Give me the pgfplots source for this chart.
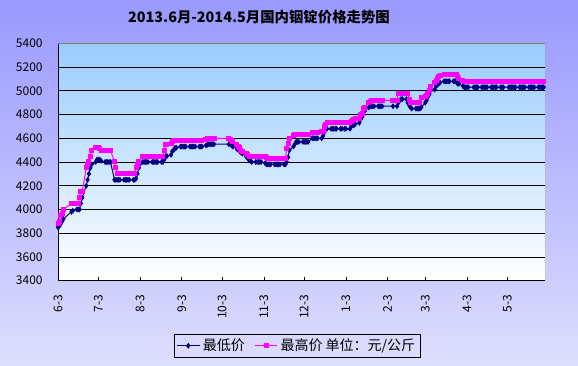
\documentclass[border=0pt]{standalone}
\usepackage{pgfplots}
\pgfplotsset{compat=1.18}
\usepackage{fontspec}
\setmainfont{Noto Sans CJK SC}
\definecolor{bgtop}{RGB}{153,153,255}
\definecolor{bgbot}{RGB}{222,222,253}
\definecolor{patop}{RGB}{153,204,255}
\definecolor{navyc}{RGB}{0,0,128}
\definecolor{magc}{RGB}{255,0,255}
\begin{document}
\begin{tikzpicture}[x=0.75pt,y=0.75pt]
\shade[top color=bgtop,bottom color=bgbot] (0,0) rectangle (578,366);
\node[font=\bfseries\fontsize{10.8}{12}\selectfont] at (259,349) {2013.6月-2014.5月国内铟锭价格走势图};
\begin{axis}[
  at={(43.5pt,64pt)}, anchor=south west,
  scale only axis, width=365.25pt, height=178pt,
  xmin=0, xmax=362, ymin=3400, ymax=5400,
  ytick={3400,3600,...,5400},
  xtick={0,30,61,92,122,153,183,214,245,273,304,334},
  xticklabels={6-3,7-3,8-3,9-3,10-3,11-3,12-3,1-3,2-3,3-3,4-3,5-3},
  axis x line*=bottom, axis y line*=left,
  axis line style={-,black,line width=0.6pt},
  ymajorgrids, grid style={black,line width=0.6pt},
  xtick align=inside, major tick length=3pt,
  xtick style={black,line width=0.5pt},
  ytick style={draw=none},
  tick label style={font=\fontsize{9}{10}\selectfont},
  /pgf/number format/assume math mode=true,
  /pgf/number format/1000 sep={},
  xticklabel style={rotate=90,anchor=east},
  xticklabel shift=7pt,
  yticklabel shift=8pt,
  axis background/.style={shade,top color=patop,bottom color=white},
  legend style={at={(0.491,-0.2245)}, anchor=north, legend columns=2, draw=black, fill=none,
    font=\fontsize{10.5}{12}\selectfont, inner sep=1.5pt,
    /tikz/every even column/.append style={column sep=5pt}},
]
\addplot[color=navyc, line width=0.75pt, mark=diamond*, mark size=1.6pt, mark options={solid,fill=navyc,draw=navyc}] coordinates {
(0,3850)(1,3860)(2,3880)(3,3900)(4,3920)
(10,3980)(11,3990)
(14,4000)(15,4000)(16,4000)(17,4050)(18,4100)
(21,4200)(22,4250)(23,4300)(24,4350)(25,4380)
(28,4400)(29,4420)(30,4420)(31,4420)(32,4410)
(35,4400)(36,4400)(37,4400)(38,4400)(39,4400)
(42,4250)(43,4250)(44,4250)(45,4250)(46,4250)
(49,4250)(50,4250)(51,4250)(52,4250)(53,4250)
(56,4250)(57,4250)(58,4260)(59,4300)(60,4350)
(63,4400)(64,4400)(65,4400)(66,4400)(67,4400)
(70,4400)(71,4400)(72,4400)(73,4400)(74,4400)
(77,4400)(78,4400)(79,4420)(80,4450)(81,4450)
(84,4460)(85,4490)(86,4500)(87,4520)(88,4520)
(91,4530)(92,4530)(93,4530)(94,4530)(95,4530)
(98,4530)(99,4530)(100,4530)(101,4530)(102,4530)
(105,4530)(106,4530)(107,4530)(110,4540)(111,4545)
(112,4550)(113,4550)(114,4550)(115,4550)(116,4550)
(127,4550)(128,4550)(129,4540)(130,4530)
(133,4510)(134,4500)(135,4490)(136,4480)(137,4470)
(140,4445)(141,4430)(142,4420)(143,4410)(144,4400)
(147,4400)(148,4400)(149,4400)(150,4400)(151,4400)
(154,4390)(155,4380)(156,4380)(157,4380)(158,4380)
(161,4380)(162,4380)(163,4380)(164,4380)(165,4380)
(168,4380)(169,4380)(170,4400)(171,4440)(172,4500)
(175,4530)(176,4550)(177,4570)(178,4570)(179,4570)
(182,4570)(183,4570)(184,4570)(185,4570)(186,4570)
(189,4600)(190,4600)(191,4600)(192,4600)(193,4600)
(196,4600)(197,4620)(198,4650)(199,4680)(200,4680)
(203,4680)(204,4680)(205,4680)(206,4680)(207,4680)
(210,4680)(211,4680)(213,4680)(214,4680)
(217,4680)(218,4700)(219,4710)(220,4710)(221,4720)
(224,4730)(225,4760)(226,4780)(227,4800)(228,4830)
(231,4860)(232,4870)(233,4870)(234,4870)(235,4870)
(238,4870)(239,4870)(240,4870)(241,4870)
(249,4870)
(252,4870)(253,4900)(254,4920)(255,4930)(256,4930)
(259,4930)(260,4900)(261,4880)(262,4860)(263,4850)
(266,4850)(267,4850)(268,4850)(269,4850)(270,4860)
(273,4900)(274,4920)(275,4950)(276,4970)(277,5000)
(280,5010)(281,5040)(282,5050)(283,5060)(284,5070)
(287,5080)(288,5080)(289,5080)(290,5080)(291,5080)
(294,5080)(295,5080)(296,5080)(297,5060)(298,5060)
(301,5040)(302,5030)(303,5030)(304,5030)(305,5030)
(309,5030)(310,5030)(311,5030)(312,5030)
(315,5030)(316,5030)(317,5030)(318,5030)(319,5030)
(322,5030)(323,5030)(324,5030)(325,5030)(326,5030)
(329,5030)(330,5030)(331,5030)(335,5030)
(336,5030)(337,5030)(338,5030)(339,5030)(340,5030)
(343,5030)(344,5030)(345,5030)(346,5030)(347,5030)
(350,5030)(351,5030)(352,5030)(353,5030)(354,5030)
(357,5030)(358,5030)(359,5030)(360,5030)(361,5030)
};
\addlegendentry{最低价}
\addplot[color=magc, line width=0.75pt, mark=square*, mark size=1.5pt, mark options={solid,fill=magc,draw=magc}] coordinates {
(0,3880)(1,3900)(2,3950)(3,3970)(4,4000)
(10,4050)(11,4050)
(14,4050)(15,4050)(16,4100)(17,4150)(18,4150)
(21,4350)(22,4380)(23,4400)(24,4450)(25,4500)
(28,4520)(29,4520)(30,4520)(31,4510)(32,4500)
(35,4500)(36,4500)(37,4500)(38,4500)(39,4500)
(42,4400)(43,4350)(44,4300)(45,4300)(46,4300)
(49,4300)(50,4300)(51,4300)(52,4300)(53,4300)
(56,4300)(57,4300)(58,4350)(59,4380)(60,4400)
(63,4450)(64,4450)(65,4450)(66,4450)(67,4450)
(70,4450)(71,4450)(72,4450)(73,4450)(74,4450)
(77,4450)(78,4450)(79,4500)(80,4550)(81,4550)
(84,4560)(85,4570)(86,4580)(87,4580)(88,4580)
(91,4580)(92,4580)(93,4580)(94,4580)(95,4580)
(98,4580)(99,4580)(100,4580)(101,4580)(102,4580)
(105,4580)(106,4580)(107,4580)(110,4590)(111,4600)
(112,4600)(113,4600)(114,4600)(115,4600)(116,4600)
(127,4600)(128,4590)(129,4580)(130,4570)
(133,4550)(134,4530)(135,4520)(136,4500)(137,4490)
(140,4470)(141,4460)(142,4450)(143,4450)(144,4450)
(147,4450)(148,4450)(149,4450)(150,4450)(151,4450)
(154,4450)(155,4440)(156,4430)(157,4430)(158,4430)
(161,4430)(162,4430)(163,4430)(164,4430)(165,4430)
(168,4430)(169,4430)(170,4510)(171,4560)(172,4600)
(175,4620)(176,4630)(177,4630)(178,4630)(179,4630)
(182,4630)(183,4630)(184,4630)(185,4630)(186,4630)
(189,4650)(190,4650)(191,4650)(192,4650)(193,4650)
(196,4660)(197,4660)(198,4700)(199,4720)(200,4730)
(203,4730)(204,4730)(205,4730)(206,4730)(207,4730)
(210,4730)(211,4730)(213,4730)(214,4730)
(217,4730)(218,4740)(219,4750)(220,4760)(221,4770)
(224,4770)(225,4800)(226,4810)(227,4850)(228,4860)
(231,4900)(232,4910)(233,4920)(234,4920)(235,4920)
(238,4920)(239,4920)(240,4920)(241,4920)
(249,4920)
(252,4920)(253,4980)(254,4980)(255,4980)(256,4980)
(259,4980)(260,4980)(261,4930)(262,4900)(263,4900)
(266,4900)(267,4900)(268,4900)(269,4900)(270,4940)
(273,4950)(274,4960)(275,4980)(276,5000)(277,5040)
(280,5070)(281,5090)(282,5100)(283,5120)(284,5130)
(287,5140)(288,5140)(289,5140)(290,5140)(291,5140)
(294,5140)(295,5140)(296,5140)(297,5120)(298,5100)
(301,5090)(302,5080)(303,5080)(304,5080)(305,5080)
(309,5080)(310,5080)(311,5080)(312,5080)
(315,5080)(316,5080)(317,5080)(318,5080)(319,5080)
(322,5080)(323,5080)(324,5080)(325,5080)(326,5080)
(329,5080)(330,5080)(331,5080)(335,5080)
(336,5080)(337,5080)(338,5080)(339,5080)(340,5080)
(343,5080)(344,5080)(345,5080)(346,5080)(347,5080)
(350,5080)(351,5080)(352,5080)(353,5080)(354,5080)
(357,5080)(358,5080)(359,5080)(360,5080)(361,5080)
};
\addlegendentry{最高价 单位：元/公斤}
\draw[color=gray, line width=0.6pt] (rel axis cs:0,1) -- (rel axis cs:1,1) -- (rel axis cs:1,0);
\end{axis}
\pgfresetboundingbox
\path (0,0) rectangle (578,366);
\end{tikzpicture}
\end{document}
